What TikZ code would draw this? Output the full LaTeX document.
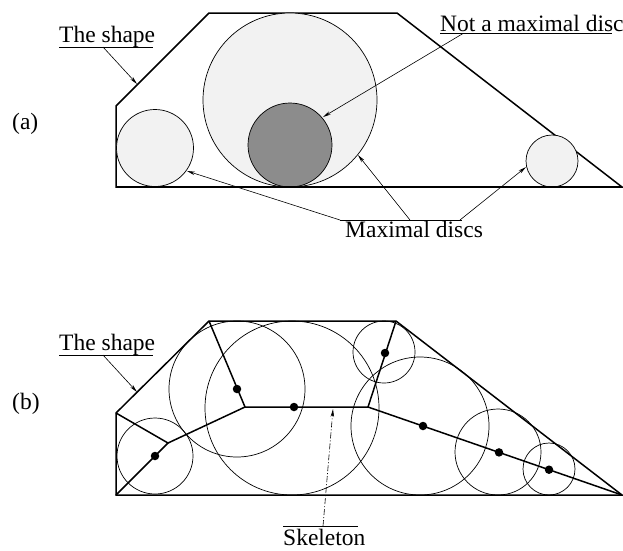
\documentclass[tikz,border=0pt]{standalone}
\usepackage{fontspec}
\setmainfont{Liberation Serif}
\usetikzlibrary{arrows.meta}
\usetikzlibrary{positioning}

\begin{document}
\begin{tikzpicture}[x=1pt,y=-1pt,
  outline/.style={line width=1.5pt,line join=miter},
  disc/.style={line width=0.7pt},
  lbl/.style={font=\fontsize{23.5}{26}\selectfont,inner sep=0pt,anchor=base west},
  arr/.style={line width=0.6pt,-{Stealth[length=8pt,width=3.5pt]}},
  skel/.style={line width=1.5pt},
  dot/.style={circle,fill=black,inner sep=0pt,minimum size=8.5pt}]
\useasboundingbox (0,0) rectangle (623,550);

% (a) maximal discs
\coordinate (aBL) at (116,187);
\coordinate (aTL) at (116,106);
\coordinate (aTC) at (209,13);
\coordinate (aTR) at (397,13);
\coordinate (aR) at (622,187);
\draw[outline] (aBL) -- (aTL) -- (aTC) -- (aTR) -- (aR) -- cycle;
\draw[disc,fill=black!5] (290,100) circle (87);
\draw[disc,fill=black!5] (155,148) circle (38.5);
\draw[disc,fill=black!5] (552,161) circle (26);
\draw[disc,fill=black!45] (290,145) circle (42);
\draw[outline] (aBL) -- (aR);

\node[lbl] (parta) at (12,129) {(a)};
\node[lbl] (shapeA) at (59,42) {The shape};
\node[lbl] (notmax) at (440,31) {Not a maximal disc};
\node[lbl] (maxd) at (345,237) {Maximal discs};
\draw[line width=0.6pt] (59,47) -- (153,47);
\draw[line width=0.6pt] (440,33.5) -- (612,33.5);
\draw[line width=0.6pt] (340,220) -- (462,220);

\coordinate (shapeAtail) at (103,47);
\coordinate (shapeAtip) at (137,84);
\coordinate (notmaxtail) at (463,33.5);
\coordinate (notmaxtip) at (323,117);
\coordinate (maxtailL) at (340,220);
\coordinate (maxtailM) at (410,220);
\coordinate (maxtailR) at (460,220);
\coordinate (maxtipL) at (187,171);
\coordinate (maxtipM) at (358,155);
\coordinate (maxtipR) at (526,167);
\draw[arr] (shapeAtail) -- (shapeAtip);
\draw[arr] (notmaxtail) -- (notmaxtip);
\draw[arr] (maxtailL) -- (maxtipL);
\draw[arr] (maxtailM) -- (maxtipM);
\draw[arr] (maxtailR) -- (maxtipR);

% (b) skeleton
\coordinate (pBL) at (116,495);
\coordinate (pTL) at (116,413);
\coordinate (pTC) at (209,321);
\coordinate (pTR) at (396,321);
\coordinate (pR) at (622,495);
\draw[outline] (pBL) -- (pTL) -- (pTC) -- (pTR) -- (pR) -- cycle;
\draw[disc] (155,456) circle (38);
\draw[disc] (237,389) circle (68);
\draw[disc] (292,408) circle (87);
\draw[disc] (384,352) circle (31);
\draw[disc] (420,426) circle (69);
\draw[disc] (498,452) circle (43);
\draw[disc] (549,469) circle (26);

\coordinate (jA) at (168,443);
\coordinate (jB) at (245,407);
\coordinate (jC) at (368,407);
\draw[skel] (pBL) -- (jA) -- (pTL);
\draw[skel] (jA) -- (jB) -- (pTC);
\draw[skel] (jB) -- (jC) -- (pTR);
\draw[skel] (jC) -- (pR);
\node[dot] (d1) at (155,456) {};
\node[dot] (d2) at (237,389) {};
\node[dot] (d3) at (294,407) {};
\node[dot] (d4) at (385,353) {};
\node[dot] (d5) at (423,426) {};
\node[dot] (d6) at (499,452.4) {};
\node[dot] (d7) at (549,469.7) {};

\node[lbl] (partb) at (12,409) {(b)};
\node[lbl] (shapeB) at (59,350) {The shape};
\node[lbl] (skelton) at (283,545) {Skeleton};
\draw[line width=0.6pt] (59,355) -- (153,355);
\draw[line width=0.6pt] (283,526) -- (358,526);

\coordinate (shapeBtail) at (103,355);
\coordinate (shapeBtip) at (137,392);
\coordinate (skeltail) at (323,526);
\coordinate (skeltip) at (333,409);
\draw[arr] (shapeBtail) -- (shapeBtip);
\draw[arr,dash pattern=on 6pt off 2pt on 1pt off 2pt] (skeltail) -- (skeltip);

\end{tikzpicture}
\end{document}
